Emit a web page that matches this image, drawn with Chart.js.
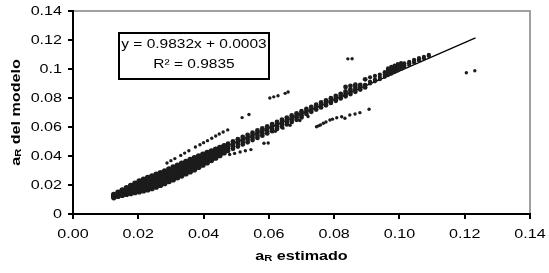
<!DOCTYPE html>
<html>
<head>
<meta charset="utf-8">
<script src="https://cdn.jsdelivr.net/npm/chart.js@4.4.1/dist/chart.umd.min.js"></script>
<style>
  html, body { margin: 0; padding: 0; background: #fff; }
  #wrap { width: 549px; height: 273px; }
</style>
</head>
<body>
<div id="wrap"><canvas id="chart" width="549" height="273"></canvas></div>
<script>
// tick labels
const xTickLabels = ['0.00', '0.02', '0.04', '0.06', '0.08', '0.10', '0.12', '0.14'];
const yTickLabels = ['0', '0.02', '0.04', '0.06', '0.08', '0.1', '0.12', '0.14'];

// main dense band, low a_R
const denseBand = [
  [0.0125, 0.0113], [0.0125, 0.0125], [0.0125, 0.0135],
  [0.0138, 0.0122], [0.0138, 0.0135], [0.0138, 0.0149],
  [0.0151, 0.0129], [0.0151, 0.0144], [0.0151, 0.0159], [0.0151, 0.0166],
  [0.0164, 0.0136], [0.0164, 0.0152], [0.0164, 0.0167], [0.0164, 0.0180],
  [0.0177, 0.0142], [0.0177, 0.0158], [0.0177, 0.0174], [0.0177, 0.0190], [0.0177, 0.0197],
  [0.0190, 0.0148], [0.0190, 0.0165], [0.0190, 0.0182], [0.0190, 0.0199], [0.0190, 0.0211],
  [0.0203, 0.0153], [0.0203, 0.0170], [0.0203, 0.0187], [0.0203, 0.0204], [0.0203, 0.0220], [0.0203, 0.0227],
  [0.0216, 0.0160], [0.0216, 0.0177], [0.0216, 0.0194], [0.0216, 0.0211], [0.0216, 0.0228], [0.0216, 0.0240],
  [0.0229, 0.0167], [0.0229, 0.0184], [0.0229, 0.0201], [0.0229, 0.0218], [0.0229, 0.0235], [0.0229, 0.0251],
  [0.0242, 0.0176], [0.0242, 0.0193], [0.0242, 0.0210], [0.0242, 0.0227], [0.0242, 0.0244], [0.0242, 0.0262],
  [0.0255, 0.0187], [0.0255, 0.0204], [0.0255, 0.0221], [0.0255, 0.0238], [0.0255, 0.0255], [0.0255, 0.0273],
  [0.0268, 0.0198], [0.0268, 0.0215], [0.0268, 0.0232], [0.0268, 0.0249], [0.0268, 0.0266], [0.0268, 0.0284],
  [0.0281, 0.0211], [0.0281, 0.0228], [0.0281, 0.0245], [0.0281, 0.0262], [0.0281, 0.0279], [0.0281, 0.0297],
  [0.0294, 0.0224], [0.0294, 0.0241], [0.0294, 0.0258], [0.0294, 0.0275], [0.0294, 0.0292], [0.0294, 0.0310],
  [0.0307, 0.0237], [0.0307, 0.0254], [0.0307, 0.0271], [0.0307, 0.0288], [0.0307, 0.0305], [0.0307, 0.0323],
  [0.0320, 0.0250], [0.0320, 0.0267], [0.0320, 0.0284], [0.0320, 0.0301], [0.0320, 0.0318], [0.0320, 0.0336],
  [0.0333, 0.0263], [0.0333, 0.0280], [0.0333, 0.0297], [0.0333, 0.0314], [0.0333, 0.0331], [0.0333, 0.0349],
  [0.0346, 0.0278], [0.0346, 0.0295], [0.0346, 0.0312], [0.0346, 0.0329], [0.0346, 0.0346], [0.0346, 0.0362],
  [0.0359, 0.0292], [0.0359, 0.0309], [0.0359, 0.0326], [0.0359, 0.0343], [0.0359, 0.0360], [0.0359, 0.0375],
  [0.0372, 0.0306], [0.0372, 0.0322], [0.0372, 0.0339], [0.0372, 0.0356], [0.0372, 0.0372], [0.0372, 0.0387],
  [0.0385, 0.0322], [0.0385, 0.0338], [0.0385, 0.0354], [0.0385, 0.0370], [0.0385, 0.0385], [0.0385, 0.0399],
  [0.0398, 0.0338], [0.0398, 0.0353], [0.0398, 0.0368], [0.0398, 0.0383], [0.0398, 0.0398], [0.0398, 0.0411],
  [0.0411, 0.0354], [0.0411, 0.0368], [0.0411, 0.0382], [0.0411, 0.0396], [0.0411, 0.0410], [0.0411, 0.0423],
  [0.0424, 0.0370], [0.0424, 0.0383], [0.0424, 0.0396], [0.0424, 0.0409], [0.0424, 0.0423], [0.0424, 0.0435],
  [0.0437, 0.0387], [0.0437, 0.0399], [0.0437, 0.0411], [0.0437, 0.0423], [0.0437, 0.0436], [0.0437, 0.0447],
  [0.0450, 0.0404], [0.0450, 0.0415], [0.0450, 0.0426], [0.0450, 0.0438], [0.0450, 0.0449], [0.0450, 0.0459],
  [0.0463, 0.0422], [0.0463, 0.0432], [0.0463, 0.0442], [0.0463, 0.0452], [0.0463, 0.0462], [0.0463, 0.0471]
];

// main band, middle a_R
const midBand = [
  [0.0475, 0.0435], [0.0475, 0.0452], [0.0475, 0.0469], [0.0475, 0.0486],
  [0.0490, 0.0450], [0.0490, 0.0467], [0.0490, 0.0484], [0.0490, 0.0501],
  [0.0505, 0.0465], [0.0505, 0.0482], [0.0505, 0.0499], [0.0505, 0.0516],
  [0.0520, 0.0480], [0.0520, 0.0497], [0.0520, 0.0514], [0.0520, 0.0531],
  [0.0535, 0.0495], [0.0535, 0.0512], [0.0535, 0.0529], [0.0535, 0.0546],
  [0.0550, 0.0510], [0.0550, 0.0527], [0.0550, 0.0544], [0.0550, 0.0561],
  [0.0565, 0.0525], [0.0565, 0.0542], [0.0565, 0.0559], [0.0565, 0.0576],
  [0.0580, 0.0540], [0.0580, 0.0557], [0.0580, 0.0574], [0.0580, 0.0591],
  [0.0595, 0.0556], [0.0595, 0.0572], [0.0595, 0.0589], [0.0595, 0.0605],
  [0.0610, 0.0571], [0.0610, 0.0587], [0.0610, 0.0604], [0.0610, 0.0620],
  [0.0625, 0.0587], [0.0625, 0.0603], [0.0625, 0.0619], [0.0625, 0.0635],
  [0.0640, 0.0602], [0.0640, 0.0618], [0.0640, 0.0634], [0.0640, 0.0650],
  [0.0655, 0.0618], [0.0655, 0.0634], [0.0655, 0.0649], [0.0655, 0.0665],
  [0.0670, 0.0634], [0.0670, 0.0649], [0.0670, 0.0664], [0.0670, 0.0680],
  [0.0685, 0.0650], [0.0685, 0.0665], [0.0685, 0.0679], [0.0685, 0.0694],
  [0.0700, 0.0666], [0.0700, 0.0680], [0.0700, 0.0694], [0.0700, 0.0709],
  [0.0715, 0.0690], [0.0715, 0.0707], [0.0715, 0.0724],
  [0.0730, 0.0705], [0.0730, 0.0722], [0.0730, 0.0739],
  [0.0745, 0.0720], [0.0745, 0.0737], [0.0745, 0.0754],
  [0.0760, 0.0735], [0.0760, 0.0752], [0.0760, 0.0769],
  [0.0775, 0.0750], [0.0775, 0.0767], [0.0775, 0.0784],
  [0.0790, 0.0766], [0.0790, 0.0782], [0.0790, 0.0799],
  [0.0805, 0.0781], [0.0805, 0.0797], [0.0805, 0.0814],
  [0.0820, 0.0797], [0.0820, 0.0813], [0.0820, 0.0829],
  [0.0835, 0.0812], [0.0835, 0.0828], [0.0835, 0.0845], [0.0835, 0.0876],
  [0.0850, 0.0827], [0.0850, 0.0843], [0.0850, 0.0860], [0.0850, 0.0884],
  [0.0865, 0.0843], [0.0865, 0.0859], [0.0865, 0.0876], [0.0865, 0.0892],
  [0.0880, 0.0858], [0.0880, 0.0874], [0.0880, 0.0890],
  [0.0895, 0.0873], [0.0895, 0.0889], [0.0895, 0.0929]
];

// main band, high a_R
const topBand = [
  [0.0910, 0.0900], [0.0910, 0.0913], [0.0910, 0.0943],
  [0.0925, 0.0915], [0.0925, 0.0928], [0.0925, 0.0952],
  [0.0940, 0.0930], [0.0940, 0.0945], [0.0940, 0.0962],
  [0.0955, 0.0946], [0.0955, 0.0962], [0.0955, 0.0978],
  [0.0965, 0.0958], [0.0965, 0.0975], [0.0965, 0.0992], [0.0965, 0.1004],
  [0.0975, 0.0968], [0.0975, 0.0986], [0.0975, 0.1002], [0.0975, 0.1014],
  [0.0985, 0.0979], [0.0985, 0.0996], [0.0985, 0.1012], [0.0985, 0.1024],
  [0.0995, 0.0990], [0.0995, 0.1006], [0.0995, 0.1021], [0.0995, 0.1034],
  [0.1005, 0.1000], [0.1005, 0.1016], [0.1005, 0.1030], [0.1005, 0.1041],
  [0.1015, 0.1012], [0.1015, 0.1026], [0.1015, 0.1039],
  [0.1030, 0.1027], [0.1030, 0.1040], [0.1030, 0.1050],
  [0.1045, 0.1043], [0.1045, 0.1054], [0.1045, 0.1063],
  [0.1060, 0.1058], [0.1060, 0.1068], [0.1060, 0.1076],
  [0.1075, 0.1074], [0.1075, 0.1083],
  [0.1090, 0.1090], [0.1090, 0.1097]
];

// dashed branch above the band
const upperBranch = [
  [0.0288, 0.0352], [0.0300, 0.0368], [0.0312, 0.0382], [0.0330, 0.0404],
  [0.0342, 0.0420], [0.0355, 0.0436], [0.0375, 0.0462], [0.0389, 0.0478],
  [0.0400, 0.0492], [0.0412, 0.0506], [0.0425, 0.0522], [0.0437, 0.0538],
  [0.0448, 0.0552], [0.0460, 0.0566], [0.0474, 0.0580],
  [0.0518, 0.0665], [0.0539, 0.0686],
  [0.0603, 0.0800], [0.0615, 0.0808], [0.0628, 0.0816], [0.0650, 0.0832], [0.0659, 0.0841]
];

// loose points below the band
const lowerBranch = [
  [0.0480, 0.0410], [0.0495, 0.0418], [0.0512, 0.0428], [0.0528, 0.0436],
  [0.0545, 0.0444], [0.0585, 0.0488], [0.0598, 0.0490],
  [0.0620, 0.0570], [0.0643, 0.0592], [0.0665, 0.0612], [0.0695, 0.0645], [0.0720, 0.0672]
];

// separate branch on the right, below the line
const rightBranch = [
  [0.0746, 0.0602], [0.0752, 0.0608], [0.0758, 0.0614], [0.0767, 0.0626],
  [0.0775, 0.0634], [0.0787, 0.0648], [0.0795, 0.0654], [0.0808, 0.0664],
  [0.0823, 0.0671], [0.0833, 0.0660], [0.0848, 0.0683], [0.0864, 0.0690],
  [0.0879, 0.0699], [0.0907, 0.0722]
];

const outliers = [
  [0.0842, 0.1070], [0.0855, 0.1071], [0.1205, 0.0974], [0.1231, 0.0988]
];

// linear fit y = 0.9832x + 0.0003, drawn between these ends
const trendX = [0.0125, 0.1233];
const trendY = [0.0126, 0.1215];

const eqLines = ['y = 0.9832x + 0.0003', 'R\u00b2 = 0.9835'];

const toPts = arr => arr.map(p => ({ x: p[0], y: p[1] }));
const dotColor = '#1c1c1c';
const FONT = '"Liberation Sans", Arial, sans-serif';
const STRETCH = 1.24; // the source text is drawn wide

// text drawn a bit wider than normal, like the source
function wideText(ctx, text, x, y, align, font, sx) {
  ctx.save();
  ctx.translate(x, y);
  ctx.scale(sx || STRETCH, 1);
  ctx.font = font;
  ctx.textAlign = align;
  ctx.textBaseline = 'middle';
  ctx.fillStyle = '#000';
  ctx.fillText(text, 0, 0);
  ctx.restore();
}

// tick labels, axis titles with subscript R, equation box, gray top/right frame
const extrasPlugin = {
  id: 'extras',
  afterDraw(chart) {
    const ctx = chart.ctx;
    const a = chart.chartArea;
    const xs = chart.scales.x;
    const ys = chart.scales.y;
    const tickFont = '13px ' + FONT;
    ctx.save();

    ctx.strokeStyle = '#a0a0a0';
    ctx.lineWidth = 2;
    ctx.beginPath();
    ctx.moveTo(a.left + 1, a.top);
    ctx.lineTo(a.right, a.top);
    ctx.lineTo(a.right, a.bottom - 1);
    ctx.stroke();

    xs.ticks.forEach((t, i) => {
      wideText(ctx, xTickLabels[i], xs.getPixelForValue(t.value), a.bottom + 20, 'center', tickFont);
    });
    ys.ticks.forEach((t, i) => {
      wideText(ctx, yTickLabels[i], a.left - 11, ys.getPixelForValue(t.value), 'right', tickFont);
    });

    const drawSubTitle = (rest, cx, cy) => {
      const big = 'bold 13px ' + FONT;
      const small = 'bold 9px ' + FONT;
      ctx.font = big;
      const wa = ctx.measureText('a').width;
      const wr = ctx.measureText(rest).width;
      ctx.font = small;
      const ws = ctx.measureText('R').width;
      ctx.save();
      ctx.translate(cx, cy);
      ctx.scale(STRETCH, 1);
      let x = -(wa + ws + wr) / 2;
      ctx.fillStyle = '#000';
      ctx.textBaseline = 'middle';
      ctx.textAlign = 'left';
      ctx.font = big;
      ctx.fillText('a', x, 0);
      x += wa;
      ctx.font = small;
      ctx.fillText('R', x, 3);
      x += ws;
      ctx.font = big;
      ctx.fillText(rest, x, 0);
      ctx.restore();
    };

    drawSubTitle(' estimado', (a.left + a.right) / 2, 256);

    ctx.save();
    ctx.translate(16, (a.top + a.bottom) / 2);
    ctx.rotate(-Math.PI / 2);
    drawSubTitle(' del modelo', 0, 0);
    ctx.restore();

    ctx.fillStyle = '#fff';
    ctx.fillRect(119, 33, 150, 46);
    ctx.strokeStyle = '#000';
    ctx.lineWidth = 2;
    ctx.strokeRect(119, 33, 150, 46);
    wideText(ctx, eqLines[0], 194, 44, 'center', '13px ' + FONT, 1.19);
    wideText(ctx, eqLines[1], 194, 64, 'center', '13px ' + FONT, 1.19);

    ctx.restore();
  }
};

new Chart(document.getElementById('chart').getContext('2d'), {
  type: 'scatter',
  data: {
    datasets: [
      { data: toPts(denseBand), pointRadius: 2.8, backgroundColor: dotColor, borderWidth: 0 },
      { data: toPts(midBand), pointRadius: 2.4, backgroundColor: dotColor, borderWidth: 0 },
      { data: toPts(topBand), pointRadius: 2.1, backgroundColor: dotColor, borderWidth: 0 },
      { data: toPts(upperBranch), pointRadius: 1.7, backgroundColor: dotColor, borderWidth: 0 },
      { data: toPts(lowerBranch), pointRadius: 1.7, backgroundColor: dotColor, borderWidth: 0 },
      { data: toPts(rightBranch), pointRadius: 1.7, backgroundColor: dotColor, borderWidth: 0 },
      { data: toPts(outliers), pointRadius: 1.7, backgroundColor: dotColor, borderWidth: 0 },
      {
        type: 'line',
        data: trendX.map((x, i) => ({ x: x, y: trendY[i] })),
        borderColor: '#000',
        borderWidth: 1.3,
        pointRadius: 0,
        fill: false
      }
    ]
  },
  options: {
    responsive: false,
    animation: false,
    layout: { padding: { top: 11, right: 19, left: 0, bottom: 0 } },
    plugins: {
      legend: { display: false },
      tooltip: { enabled: false }
    },
    scales: {
      x: {
        type: 'linear',
        min: 0,
        max: 0.14,
        afterFit: s => { s.height = 59; },
        afterBuildTicks: s => { s.ticks = xTickLabels.map(t => ({ value: parseFloat(t) })); },
        ticks: { display: false },
        grid: { drawOnChartArea: false, drawTicks: true, tickLength: 5, color: '#000', lineWidth: 2 },
        border: { color: '#000', width: 2 }
      },
      y: {
        type: 'linear',
        min: 0,
        max: 0.14,
        afterFit: s => { s.width = 73; },
        afterBuildTicks: s => { s.ticks = yTickLabels.map(t => ({ value: parseFloat(t) })); },
        ticks: { display: false },
        grid: { drawOnChartArea: false, drawTicks: true, tickLength: 5, color: '#000', lineWidth: 2 },
        border: { color: '#000', width: 2 }
      }
    }
  },
  plugins: [extrasPlugin]
});
</script>
</body>
</html>
